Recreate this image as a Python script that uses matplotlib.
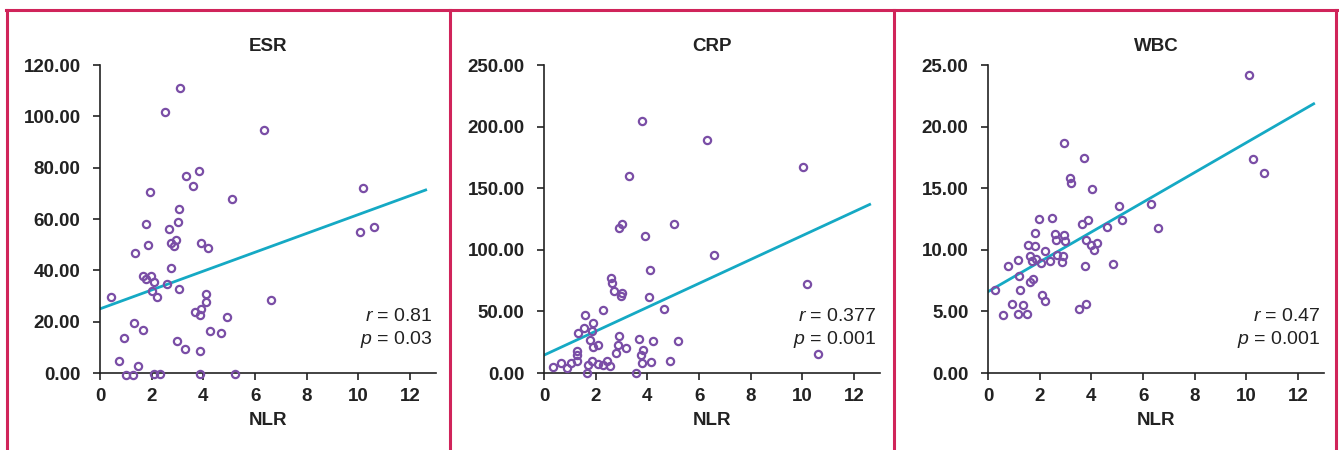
import numpy as np
import matplotlib.pyplot as plt
from matplotlib.lines import Line2D

plt.rcParams['font.family'] = ['Liberation Sans', 'DejaVu Sans']
plt.rcParams['mathtext.fontset'] = 'custom'
plt.rcParams['mathtext.it'] = 'Liberation Sans:italic'
plt.rcParams['mathtext.rm'] = 'Liberation Sans'

# ESR vs NLR
esr_x = [0.43, 3.08, 2.50, 6.34, 3.82, 3.33, 3.61, 1.92, 5.11, 10.18, 3.07, 1.79,
         3.02, 2.66, 10.06, 10.62, 2.95, 2.74, 2.85, 3.90, 4.19, 1.87, 1.37, 2.76,
         1.65, 1.77, 1.99, 2.09, 2.59, 3.06, 2.00, 2.22, 4.12, 4.12, 6.63, 3.69,
         3.90, 3.86, 4.90, 1.30, 1.65, 0.94, 4.26, 4.70, 2.98, 3.28, 3.87, 0.72,
         1.48, 1.01, 1.26, 2.10, 2.34, 3.86, 5.24]
esr_y = [29.8, 110.9, 101.8, 94.8, 78.8, 76.9, 72.8, 70.6, 67.7, 71.9, 63.8, 57.9,
         58.9, 56.0, 54.9, 56.8, 51.9, 50.8, 49.4, 50.8, 48.8, 49.8, 46.6, 40.8,
         37.8, 36.5, 37.8, 35.6, 34.8, 32.8, 31.9, 29.6, 30.7, 27.7, 28.6, 23.7,
         24.8, 22.6, 21.8, 19.6, 16.6, 13.5, 16.5, 15.5, 12.6, 9.5, 8.6, 4.7,
         2.7, -0.8, -0.8, -0.3, -0.3, -0.5, -0.3]

# CRP vs NLR
crp_x = [3.78, 6.30, 10.02, 3.30, 3.01, 2.91, 5.03, 3.89, 6.57, 4.10, 10.16, 2.60,
         2.65, 2.69, 3.03, 2.96, 4.06, 4.63, 2.28, 1.58, 1.90, 1.56, 1.84, 1.33,
         2.92, 3.66, 4.22, 5.19, 1.77, 2.08, 1.89, 2.87, 3.19, 3.84, 1.27, 1.27,
         2.77, 3.75, 10.62, 1.27, 1.85, 2.43, 4.13, 4.86, 3.78, 0.66, 1.06, 2.09,
         2.29, 2.55, 0.34, 0.88, 1.71, 1.68, 3.57]
crp_y = [204.4, 189.3, 167.0, 160.0, 121.2, 117.7, 120.9, 111.4, 95.7, 83.5, 72.4, 77.3,
         72.9, 66.2, 65.1, 62.4, 61.6, 52.1, 51.5, 47.2, 40.9, 36.6, 34.4, 32.5,
         30.1, 27.9, 26.3, 25.8, 26.6, 22.5, 20.9, 23.0, 20.6, 19.0, 17.6, 14.4,
         16.0, 14.9, 15.7, 10.0, 9.5, 9.5, 8.9, 10.0, 8.4, 7.9, 8.4, 7.3,
         6.2, 5.4, 5.2, 4.3, 6.2, 0.0, 0.0]

# WBC vs NLR
wbc_x = [10.10, 2.93, 3.73, 10.25, 10.69, 3.16, 3.21, 4.04, 5.05, 6.32, 1.98, 2.49,
         3.65, 3.86, 5.20, 4.62, 6.59, 1.83, 2.58, 2.94, 2.63, 2.98, 3.78, 4.21,
         3.97, 4.10, 1.54, 1.80, 2.19, 2.67, 2.90, 2.85, 2.39, 1.17, 1.61, 1.71,
         1.85, 2.05, 0.79, 3.77, 4.84, 1.19, 1.76, 1.64, 0.28, 1.24, 2.08, 2.20,
         0.93, 1.36, 3.78, 3.51, 0.57, 1.15, 1.50]
wbc_y = [24.19, 18.66, 17.49, 17.35, 16.27, 15.81, 15.43, 14.91, 13.56, 13.69, 12.47, 12.58,
         12.12, 12.45, 12.42, 11.82, 11.77, 11.39, 11.28, 11.23, 10.76, 10.68, 10.76, 10.57,
         10.36, 9.95, 10.36, 10.33, 9.87, 9.60, 9.52, 9.03, 9.11, 9.19, 9.46, 9.08,
         9.25, 8.92, 8.70, 8.68, 8.84, 7.89, 7.67, 7.38, 6.75, 6.70, 6.32, 5.83,
         5.64, 5.53, 5.59, 5.21, 4.72, 4.75, 4.80]

# fitted lines (end points)
fit_x = [0.0, 12.6]
esr_fit = [25.0, 71.3]
crp_fit = [14.5, 136.8]
wbc_fit = [6.6, 21.85]

titles = ['ESR', 'CRP', 'WBC']
ylims = [120, 250, 25]
ysteps = [20, 50, 5]
stats = [('0.81', '0.03'), ('0.377', '0.001'), ('0.47', '0.001')]
xs = [esr_x, crp_x, wbc_x]
ys = [esr_y, crp_y, wbc_y]
fits = [esr_fit, crp_fit, wbc_fit]

purple = '#7a4ea6'
teal = '#15a9c4'
frame = '#d0245a'

fig = plt.figure(figsize=(13.39, 4.5), dpi=100)
lefts = [100, 544, 988]

for i in range(3):
    ax = fig.add_axes([lefts[i] / 1339, 77 / 450, 336 / 1339, 308 / 450])
    ax.plot(fit_x, fits[i], color=teal, lw=2.0, zorder=2)
    ax.plot(xs[i], ys[i], 'o', ms=5.2, mfc='none', mec=purple, mew=1.6,
            clip_on=False, zorder=3)
    ax.set_xlim(0, 13)
    ax.set_ylim(0, ylims[i])
    ax.set_xticks(range(0, 13, 2))
    yt = np.arange(0, ylims[i] + 0.1, ysteps[i])
    ax.set_yticks(yt)
    ax.set_yticklabels(['%.2f' % v for v in yt])
    ax.spines['top'].set_visible(False)
    ax.spines['right'].set_visible(False)
    for s in ['left', 'bottom']:
        ax.spines[s].set_linewidth(1.2)
        ax.spines[s].set_color('#222222')
    ax.tick_params(axis='both', direction='out', length=5, width=1.2,
                   color='#222222', labelsize=13.5, labelcolor='#222222')
    ax.tick_params(axis='y', pad=9)
    ax.tick_params(axis='x', pad=6)
    for lab in ax.get_xticklabels() + ax.get_yticklabels():
        lab.set_fontweight('bold')
    ax.set_title(titles[i], fontsize=13.5, fontweight='bold', color='#222222', pad=10)
    ax.set_xlabel('NLR', fontsize=13.5, fontweight='bold', color='#222222', labelpad=5)
    r, p = stats[i]
    ax.text(0.99, 0.182, '$r$ = ' + r, transform=ax.transAxes, ha='right',
            va='center', fontsize=14, color='#222222')
    ax.text(0.99, 0.109, '$p$ = ' + p, transform=ax.transAxes, ha='right',
            va='center', fontsize=14, color='#222222')

# crimson panel frames
ytop = 1 - 10 / 450
fig.add_artist(Line2D([6 / 1339, 1337 / 1339], [ytop, ytop], color=frame, lw=2.2,
                      transform=fig.transFigure))
for xp in [7, 450, 894, 1336]:
    fig.add_artist(Line2D([xp / 1339, xp / 1339], [0, ytop], color=frame, lw=2.2,
                          transform=fig.transFigure))

fig.savefig('out.png', dpi=100)
